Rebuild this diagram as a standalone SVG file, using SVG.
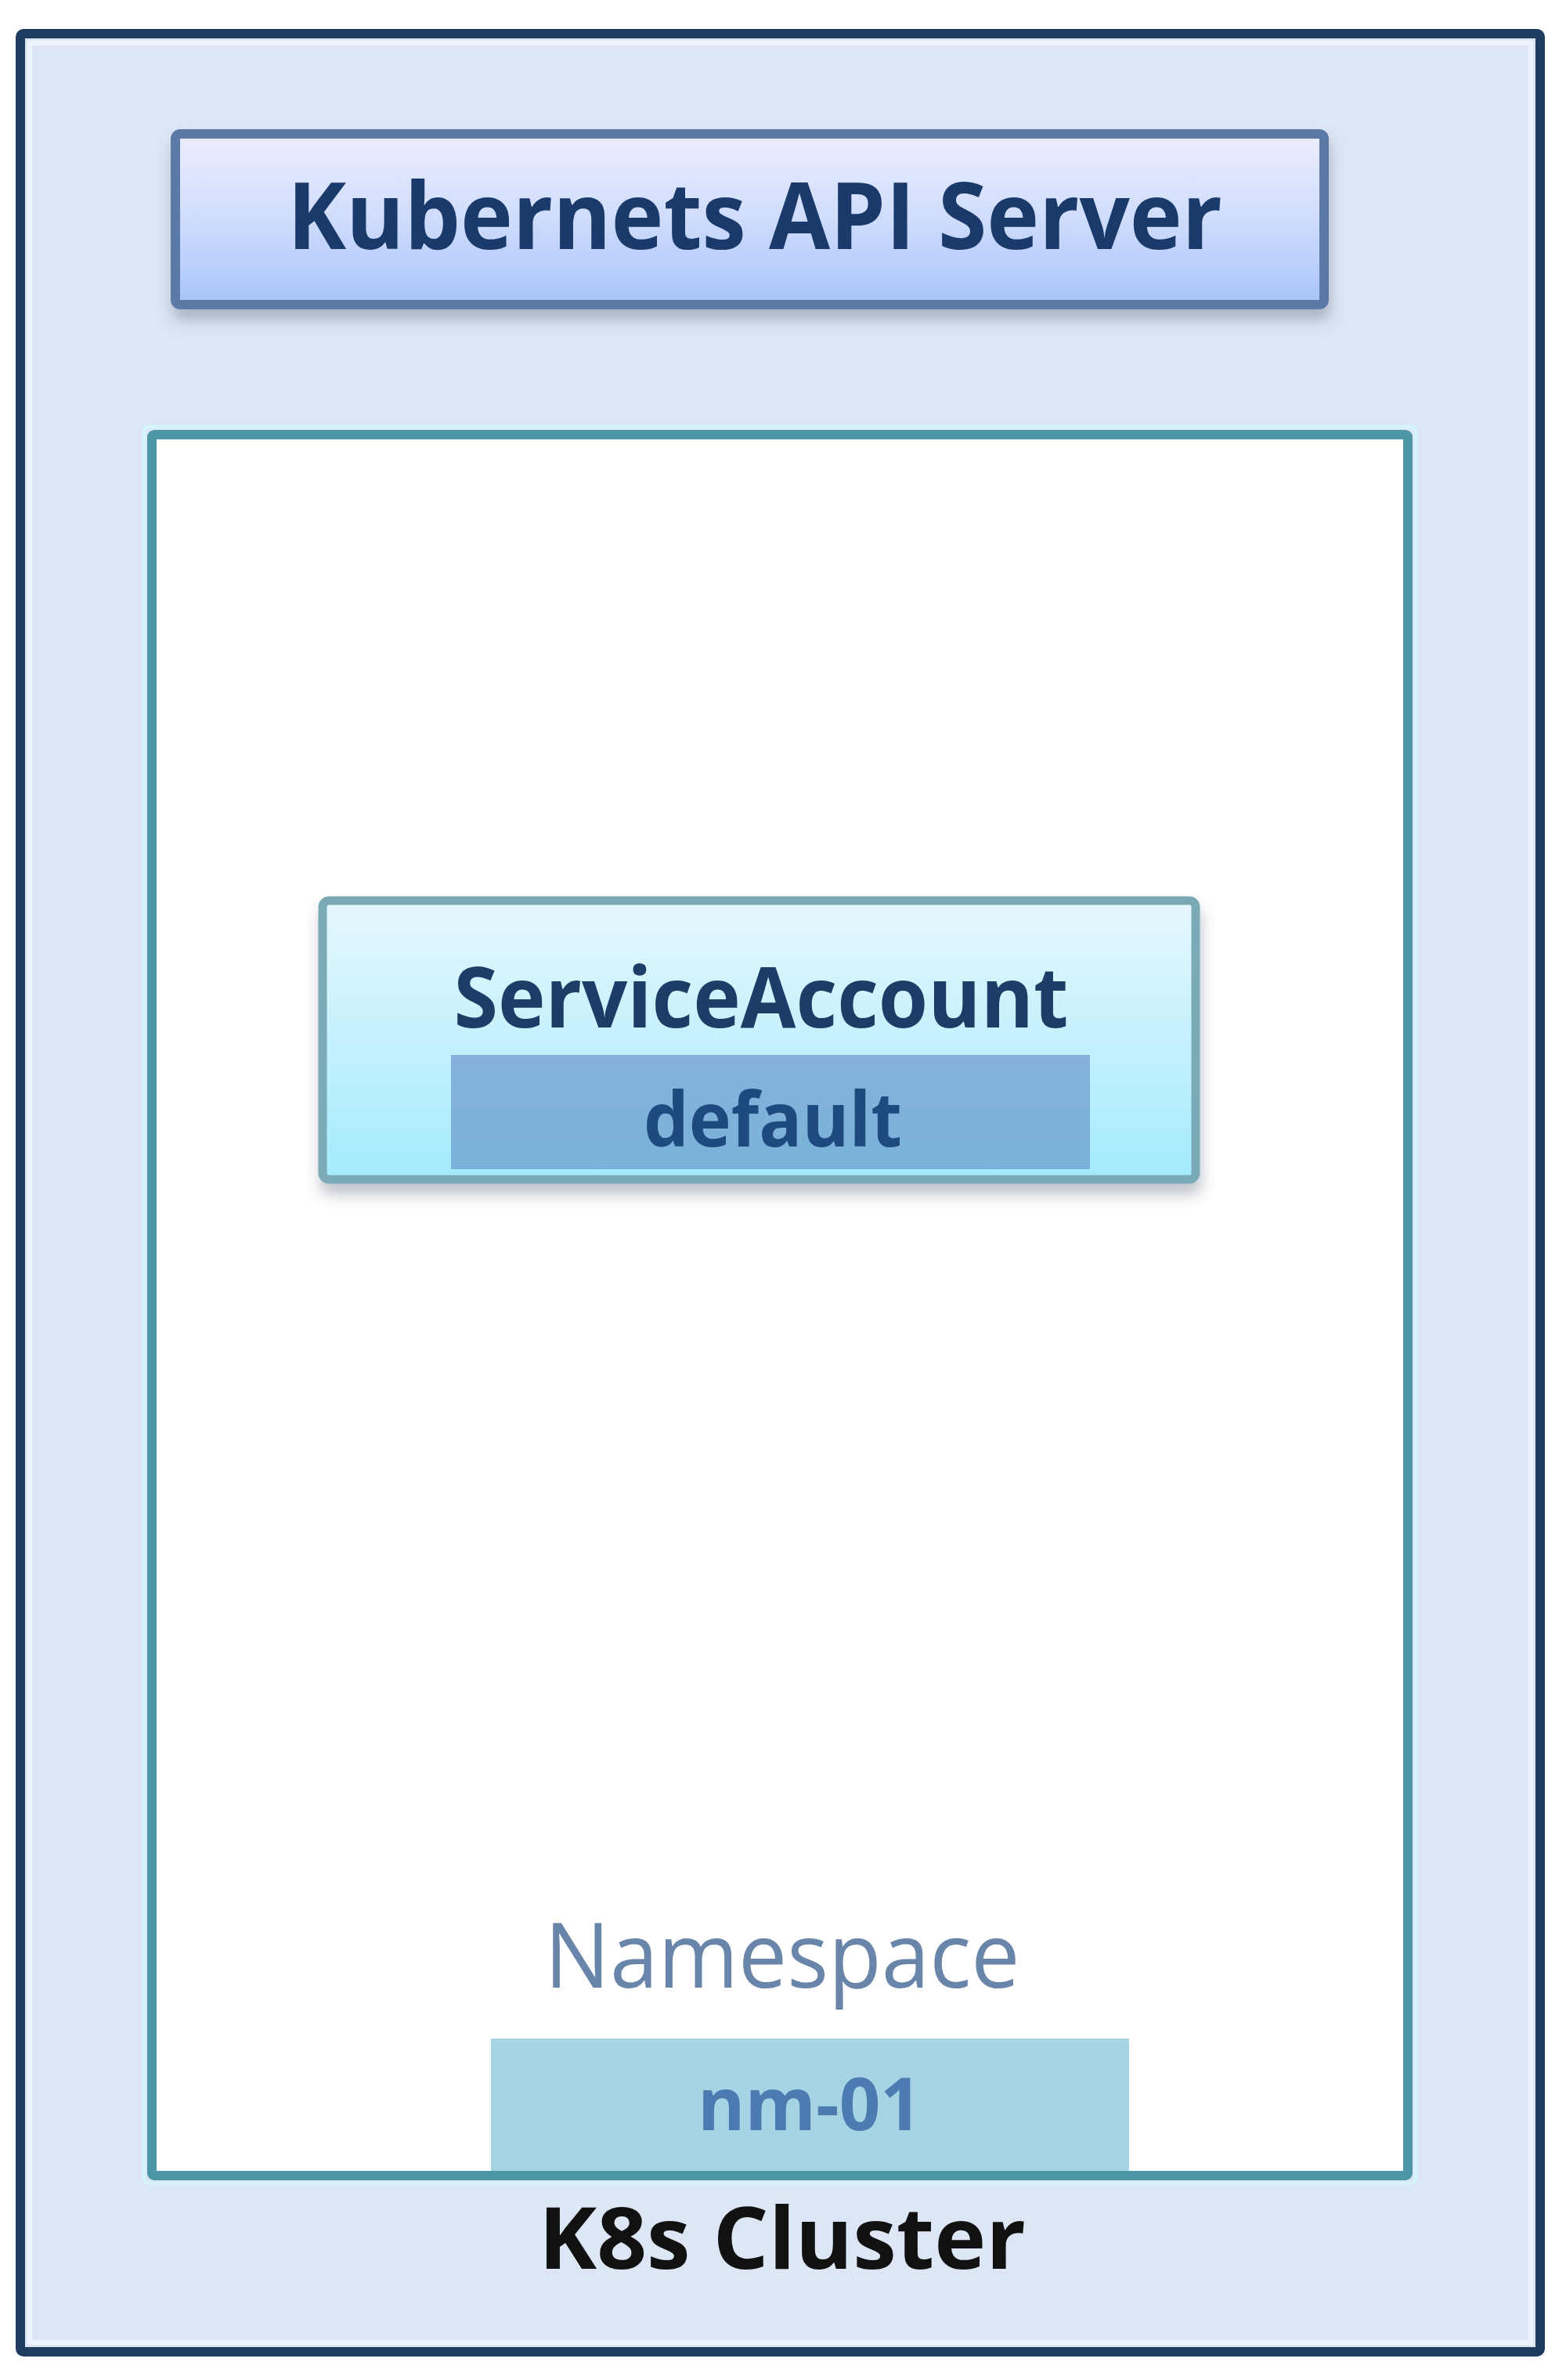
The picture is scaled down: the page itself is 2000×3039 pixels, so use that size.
<svg xmlns="http://www.w3.org/2000/svg" width="2000" height="3039" viewBox="0 0 2000 3039">
  <defs>
    <linearGradient id="gApi" x1="0" y1="0" x2="0" y2="1">
      <stop offset="0" stop-color="#eceefe"/>
      <stop offset="0.45" stop-color="#d2defc"/>
      <stop offset="1" stop-color="#a9c4fa"/>
    </linearGradient>
    <linearGradient id="gSa" x1="0" y1="0" x2="0" y2="1">
      <stop offset="0" stop-color="#e6f7fd"/>
      <stop offset="1" stop-color="#a3ebfd"/>
    </linearGradient>
    <linearGradient id="gDef" x1="0" y1="0" x2="0" y2="1">
      <stop offset="0" stop-color="#86b1dd"/>
      <stop offset="1" stop-color="#78b2d9"/>
    </linearGradient>
    <filter id="shadow" x="-5%" y="-10%" width="110%" height="140%">
      <feDropShadow dx="2" dy="14" stdDeviation="9" flood-color="#505a70" flood-opacity="0.35"/>
    </filter>
  </defs>
  <style>
    .lbl { font-family: "Open Sans", "Noto Sans", "Liberation Sans", sans-serif; text-anchor: middle; }
    .b { font-weight: 700; }
  </style>
  <rect x="0" y="0" width="2000" height="3039" fill="#ffffff"/>

  <g id="cluster">
    <rect x="26" y="43" width="1941" height="2960" rx="4" fill="#dde6f4" stroke="#1f3b5e" stroke-width="12"/>
    <rect x="38" y="55" width="1917" height="2936" fill="none" stroke="#eef4ff" stroke-width="6"/>
    <text class="lbl b" x="999" y="2897" font-size="110" fill="#111111" textLength="622" lengthAdjust="spacingAndGlyphs">K8s Cluster</text>
  </g>

  <g id="api-server">
    <rect x="224" y="171" width="1467" height="218" rx="6" fill="url(#gApi)" stroke="#5b7aa8" stroke-width="12" filter="url(#shadow)"/>
    <text class="lbl b" x="964" y="318" font-size="118" fill="#1a3a6b" textLength="1194" lengthAdjust="spacingAndGlyphs">Kubernets API Server</text>
  </g>

  <g id="namespace">
    <rect x="194" y="555" width="1604" height="2223" fill="#ffffff"/>
    <text class="lbl" x="999" y="2538" font-size="116" fill="#6986aa" textLength="607" lengthAdjust="spacingAndGlyphs">Namespace</text>
    <g id="namespace-name">
      <rect x="627" y="2603" width="815" height="172" fill="#a6d4e4"/>
      <text class="lbl b" x="1034" y="2720" font-size="94" fill="#4b7bb1" textLength="286" lengthAdjust="spacingAndGlyphs">nm-01</text>
    </g>
    <rect x="194" y="555" width="1604" height="2223" rx="3" fill="none" stroke="#4b97a8" stroke-width="12"/>
    <rect x="184" y="545" width="1624" height="2243" rx="6" fill="none" stroke="#d4f3fb" stroke-width="5"/>
  </g>

  <g id="service-account">
    <rect x="412" y="1150" width="1115" height="356" rx="8" fill="url(#gSa)" stroke="#79aab6" stroke-width="11" filter="url(#shadow)"/>
    <text class="lbl b" x="972" y="1312" font-size="108" fill="#1c3e66" textLength="785" lengthAdjust="spacingAndGlyphs">ServiceAccount</text>
    <rect x="576" y="1347" width="816" height="146" fill="url(#gDef)"/>
    <text class="lbl b" x="987" y="1464" font-size="96" fill="#1f4a80" textLength="330" lengthAdjust="spacingAndGlyphs">default</text>
  </g>

  <g id="connectors"></g>
</svg>
